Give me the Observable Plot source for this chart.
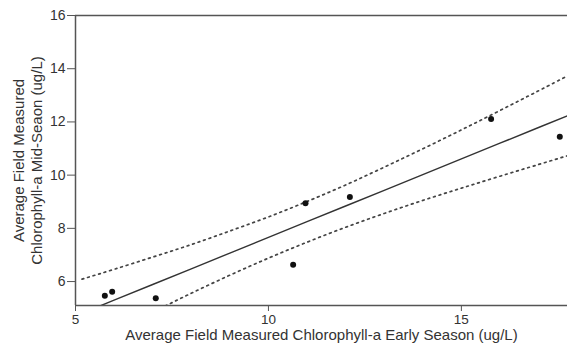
<!DOCTYPE html>
<html><head><meta charset="utf-8">
<script src="https://cdn.jsdelivr.net/npm/d3@7"></script>
<script src="https://cdn.jsdelivr.net/npm/@observablehq/plot@0.6"></script>
<style>
body{margin:0;background:#fff}
#chart svg{font-family:"Liberation Sans",Arial,sans-serif;display:block}
</style>
</head><body><div id="chart"></div>
<script>
// Observed points
const earlySeason = [5.76, 5.95, 7.08, 10.64, 10.96, 12.11, 15.77, 17.55];
const midSeason   = [5.47, 5.62, 5.37, 6.63, 8.94, 9.18, 12.11, 11.44];
// Fitted line and 95% confidence band
const bandX  = [5.17, 6, 7, 8, 9, 10, 11, 12, 13, 14, 15, 16, 17, 17.75];
const fitY   = [4.81, 5.30, 5.89, 6.48, 7.07, 7.66, 8.25, 8.84, 9.43, 10.02, 10.61, 11.20, 11.79, 12.23];
const upperY = [6.09, 6.46, 6.92, 7.39, 7.90, 8.43, 9.01, 9.63, 10.30, 10.99, 11.70, 12.43, 13.17, 13.73];
const lowerY = [3.52, 4.13, 4.85, 5.56, 6.24, 6.88, 7.48, 8.04, 8.56, 9.05, 9.51, 9.96, 10.40, 10.73];
const xTicks = [5, 10, 15];
const yTicks = [6, 8, 10, 12, 14, 16];
const xLabel = "Average Field Measured Chlorophyll-a Early Season (ug/L)";
const yLabel = "Average Field Measured\nChlorophyll-a Mid-Seaon (ug/L)";

const points = earlySeason.map((x, i) => ({x, y: midSeason[i]}));
const fit = bandX.map((x, i) => ({x, y: fitY[i]}));
const upper = bandX.map((x, i) => ({x, y: upperY[i]}));
const lower = bandX.map((x, i) => ({x, y: lowerY[i]}));

const axisColor = "#555";
const chart = Plot.plot({
  width: 567,
  height: 348,
  marginLeft: 75,
  marginRight: 0,
  marginTop: 15,
  marginBottom: 43,
  style: {fontFamily: "'Liberation Sans', Arial, sans-serif", fontSize: "13px", color: "#333", background: "#fff"},
  x: {domain: [5, 17.75]},
  y: {domain: [5.1, 16]},
  marks: [
    Plot.line(fit, {x: "x", y: "y", stroke: "#333", strokeWidth: 1.4, clip: true}),
    Plot.line(upper, {x: "x", y: "y", curve: "natural", stroke: "#444", strokeWidth: 1.7, strokeDasharray: "1.8,4", clip: true}),
    Plot.line(lower, {x: "x", y: "y", curve: "natural", stroke: "#444", strokeWidth: 1.7, strokeDasharray: "1.8,4", clip: true}),
    Plot.dot(points, {x: "x", y: "y", r: 3, fill: "#111", stroke: "none"}),
    Plot.ruleY([16], {stroke: axisColor, strokeWidth: 1.5}),
    Plot.ruleY([5.1], {stroke: axisColor, strokeWidth: 1.5}),
    Plot.ruleX([5], {stroke: axisColor, strokeWidth: 1.5}),
    Plot.axisX({ticks: xTicks, tickSize: 6, tickPadding: 3, stroke: axisColor, fontSize: 13.5, label: null}),
    Plot.axisY({ticks: yTicks, tickSize: 8, tickPadding: 2, stroke: axisColor, fontSize: 14, label: null}),
    Plot.text([xLabel], {frameAnchor: "bottom", dy: 34.5, fontSize: 15, fill: "#333"}),
    Plot.text([yLabel], {frameAnchor: "left", dx: -48, rotate: -90, textAnchor: "middle", fontSize: 15, lineHeight: 1.15, fill: "#333"})
  ]
});
document.getElementById("chart").appendChild(chart);
</script>
</body></html>
